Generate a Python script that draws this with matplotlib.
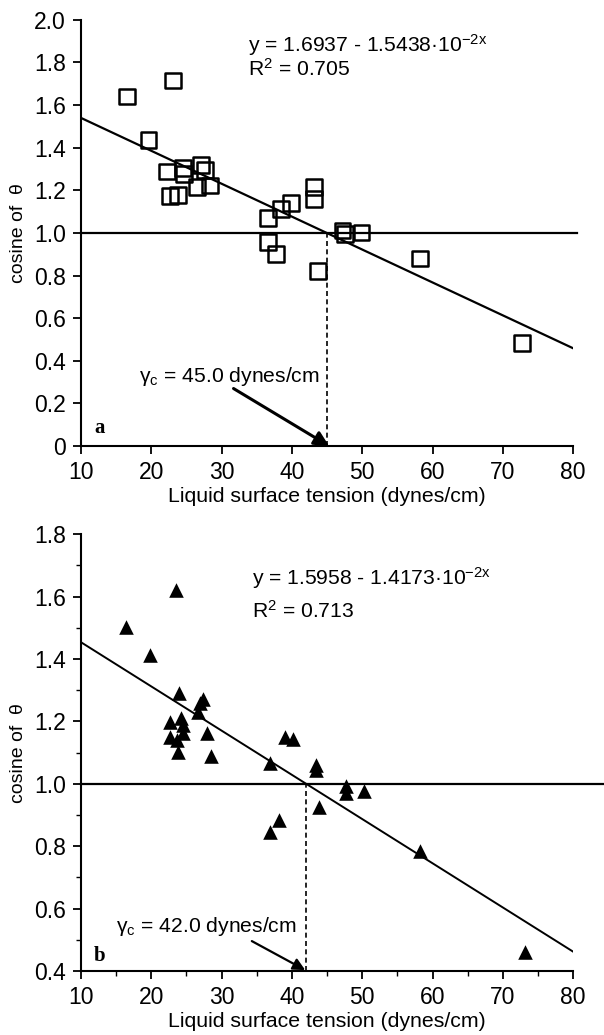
import matplotlib
matplotlib.use("Agg")
import matplotlib.pyplot as plt
from matplotlib.ticker import MultipleLocator
import numpy as np

plt.rcParams['font.family'] = ['Liberation Sans', 'DejaVu Sans']
plt.rcParams['mathtext.fontset'] = 'custom'
plt.rcParams['mathtext.rm'] = 'Liberation Sans'
plt.rcParams['mathtext.it'] = 'Liberation Sans'
plt.rcParams['mathtext.bf'] = 'Liberation Sans:bold'

# ---- data panel a (squares) ----
xa = [16.6, 23.1, 19.6, 22.2, 24.5, 24.6, 27.1, 27.6, 26.5, 28.4, 22.7, 23.75,
      36.6, 38.5, 39.9, 43.2, 43.2, 36.6, 37.7, 43.7, 47.2, 47.5, 49.9, 58.2, 72.7]
ya = [1.64, 1.715, 1.435, 1.288, 1.304, 1.275, 1.319, 1.293, 1.215, 1.222, 1.171, 1.178,
      1.069, 1.111, 1.139, 1.217, 1.158, 0.959, 0.90, 0.823, 1.011, 0.995, 1.002, 0.88, 0.484]
fit_a = (1.6937, -1.5438e-2)
gamma_a = 45.0

# ---- data panel b (triangles) ----
xb = [23.5, 16.4, 19.8, 23.9, 27.3, 27.0, 26.7, 22.7, 24.3, 24.55, 24.55, 22.6, 23.6,
      23.85, 27.9, 28.5, 39.0, 40.1, 36.9, 43.4, 43.4, 47.7, 47.7, 50.25, 43.9, 38.1,
      36.9, 58.2, 73.1]
yb = [1.62, 1.503, 1.412, 1.29, 1.271, 1.258, 1.231, 1.199, 1.21, 1.188, 1.162, 1.151, 1.14,
      1.103, 1.162, 1.09, 1.151, 1.143, 1.066, 1.06, 1.045, 0.993, 0.971, 0.978, 0.927, 0.884,
      0.846, 0.786, 0.462]
fit_b = (1.5958, -1.4173e-2)
gamma_b = 42.0

xticks = [10, 20, 30, 40, 50, 60, 70, 80]
yticks_a = [0, 0.2, 0.4, 0.6, 0.8, 1.0, 1.2, 1.4, 1.6, 1.8, 2.0]
yticklabels_a = ['0', '0.2', '0.4', '0.6', '0.8', '1.0', '1.2', '1.4', '1.6', '1.8', '2.0']
yticks_b = [0.4, 0.6, 0.8, 1.0, 1.2, 1.4, 1.6, 1.8]
yticklabels_b = ['0.4', '0.6', '0.8', '1.0', '1.2', '1.4', '1.6', '1.8']

xlabel = 'Liquid surface tension (dynes/cm)'
ylabel = 'cosine of  θ'

fig = plt.figure(figsize=(6.04, 10.35), dpi=100)
ax1 = fig.add_axes([0.134, 0.569, 0.815, 0.412])
ax2 = fig.add_axes([0.134, 0.0618, 0.815, 0.422])

TICK_FS = 16.5
XLABEL_FS = 15.3
YLABEL_FS = 14
TEXT_FS = 15.2


def style(ax, ylim, yticks, yticklabels, minor):
    ax.set_xlim(10, 80)
    ax.set_ylim(*ylim)
    for s in ['top', 'right']:
        ax.spines[s].set_visible(False)
    for s in ['left', 'bottom']:
        ax.spines[s].set_linewidth(1.5)
    ax.set_xticks(xticks)
    ax.set_xticklabels([str(t) for t in xticks])
    ax.set_yticks(yticks)
    ax.set_yticklabels(yticklabels)
    ax.tick_params(axis='both', which='major', direction='out', length=6, width=1.3,
                   labelsize=TICK_FS)
    ax.tick_params(axis='y', which='major', pad=5)
    ax.tick_params(axis='x', which='major', pad=5)
    if minor:
        ax.xaxis.set_minor_locator(MultipleLocator(5))
        ax.yaxis.set_minor_locator(MultipleLocator(0.1))
        ax.tick_params(which='minor', direction='out', length=3.5, width=1.0)
    ax.set_xlabel(xlabel, fontsize=XLABEL_FS, labelpad=2)
    ax.set_ylabel(ylabel, fontsize=YLABEL_FS, labelpad=5)


# ---- panel a ----
style(ax1, (0, 2.0), yticks_a, yticklabels_a, minor=False)
xf = np.array([10, 80])
ax1.plot(xf, fit_a[0] + fit_a[1] * xf, color='black', lw=1.6, zorder=2)
ax1.plot([10, 80.6], [1.0, 1.0], color='black', lw=1.6, clip_on=False, zorder=2)
ax1.plot([gamma_a, gamma_a], [0, 1.0], color='black', lw=1.2, ls=(0, (3, 2)), zorder=2)
ax1.scatter(xa, ya, marker='s', s=130, facecolors='none', edgecolors='black',
            linewidths=1.8, zorder=3)
ax1.text(33.75, 1.85, r'y = 1.6937 - 1.5438·10$^{\mathrm{-2x}}$', fontsize=TEXT_FS,
         ha='left', va='baseline')
ax1.text(33.75, 1.735, r'R$^{2}$ = 0.705', fontsize=TEXT_FS, ha='left', va='baseline')
ax1.text(18.2, 0.30, r'$\mathrm{\gamma_c}$ = 45.0 dynes/cm', fontsize=TEXT_FS,
         ha='left', va='baseline')
ax1.annotate('', xy=(gamma_a + 0.3, 0.0), xytext=(31.7, 0.27),
             arrowprops=dict(arrowstyle='-|>', color='black', lw=2.2, mutation_scale=22,
                             shrinkA=0, shrinkB=0, clip_on=False), annotation_clip=False)
ax1.text(12.7, 0.085, 'a', fontsize=15, fontweight='bold', family='Liberation Serif',
         ha='center', va='center')

# ---- panel b ----
style(ax2, (0.4, 1.8), yticks_b, yticklabels_b, minor=True)
ax2.plot(xf, fit_b[0] + fit_b[1] * xf, color='black', lw=1.4, zorder=2)
ax2.plot([10, 84.5], [1.0, 1.0], color='black', lw=1.6, clip_on=False, zorder=2)
ax2.plot([gamma_b, gamma_b], [0.4, 1.0], color='black', lw=1.2, ls=(0, (3, 2)), zorder=2)
ax2.scatter(xb, yb, marker='^', s=110, color='black', linewidths=0, zorder=3)
ax2.text(34.3, 1.637, r'y = 1.5958 - 1.4173·10$^{\mathrm{-2x}}$', fontsize=TEXT_FS,
         ha='left', va='baseline')
ax2.text(34.3, 1.532, r'R$^{2}$ = 0.713', fontsize=TEXT_FS, ha='left', va='baseline')
ax2.text(15.0, 0.526, r'$\mathrm{\gamma_c}$ = 42.0 dynes/cm', fontsize=TEXT_FS,
         ha='left', va='baseline')
ax2.annotate('', xy=(41.9, 0.403), xytext=(34.3, 0.496),
             arrowprops=dict(arrowstyle='-|>', color='black', lw=1.6, mutation_scale=18,
                             shrinkA=0, shrinkB=0, clip_on=False), annotation_clip=False)
ax2.text(12.6, 0.448, 'b', fontsize=15, fontweight='bold', family='Liberation Serif',
         ha='center', va='center')

fig.savefig('out.png', dpi=100)
